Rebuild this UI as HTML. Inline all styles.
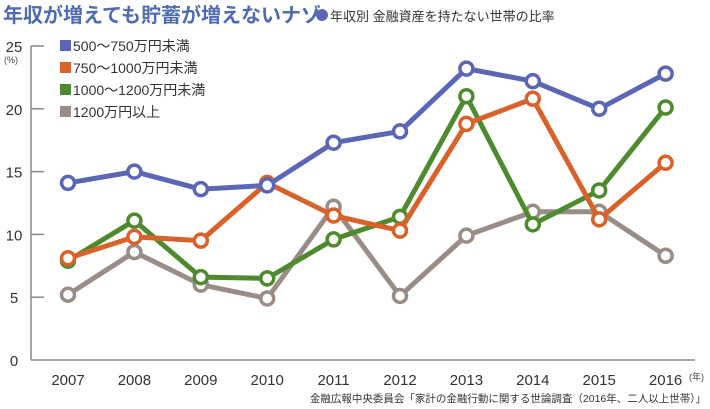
<!DOCTYPE html>
<html><head><meta charset="utf-8"><style>
body{margin:0;background:#fff;font-family:"Liberation Sans","Noto Sans CJK JP",sans-serif}
svg{display:block}
</style></head><body>
<svg id="c" width="710" height="409">
<text x="3" y="22" font-size="20" font-weight="bold" fill="#4f6cb0" font-family="Liberation Sans,Noto Sans CJK JP,sans-serif">年収が増えても貯蓄が増えないナゾ</text>
<circle cx="322" cy="15" r="6" fill="#5b67b5"/>
<text x="330" y="21" font-size="13" fill="#333">年収別 金融資産を持たない世帯の比率</text>
<text x="4" y="63" font-size="9" fill="#444">(%)</text>
<text x="704" y="380" font-size="9" fill="#444" text-anchor="end">(年)</text>
<text x="706" y="402" font-size="10.5" fill="#333" text-anchor="end">金融広報中央委員会「家計の金融行動に関する世論調査（2016年、二人以上世帯）」</text>
<g id="legend"></g>
<g id="axes"></g>
<g id="plot"></g>
</svg>
<script>
const years=['2007','2008','2009','2010','2011','2012','2013','2014','2015','2016'];
const yTicks=[0,5,10,15,20,25];
const s1=[14.1,15.0,13.6,13.9,17.3,18.2,23.2,22.2,20.0,22.8];
const s2=[8.1,9.8,9.5,14.1,11.5,10.3,18.8,20.8,11.2,15.7];
const s3=[7.9,11.1,6.6,6.5,9.6,11.4,21.0,10.8,13.5,20.1];
const s4=[5.2,8.6,6.0,4.9,12.2,5.1,9.9,11.8,11.8,8.3];
const names=['500～750万円未満','750～1000万円未満','1000～1200万円未満','1200万円以上'];
const NS='http://www.w3.org/2000/svg';
const colors=['#5b67b5','#d9622b','#4e8b2f','#9a8c87'];
const x=i=>68+i*66.4, y=v=>360-12.56*v;
function mk(t,a,p){const e=document.createElementNS(NS,t);for(const k in a)e.setAttribute(k,a[k]);p.appendChild(e);return e;}
const ax=document.getElementById('axes');
let l=mk('line',{x1:31,y1:y(25),x2:31,y2:y(0),stroke:'#888','stroke-width':1.5},ax);


l=mk('line',{x1:31,y1:y(0),x2:695,y2:y(0),stroke:'#888','stroke-width':1.5},ax);


yTicks.forEach(v=>{
 const t=mk('text',{x:14,y:y(v)+6,'font-size':15,'text-anchor':'middle',fill:'#333'},ax);t.textContent=v;
 
 
 if(v>0){const tk=mk('line',{x1:31,y1:y(v),x2:44,y2:y(v),stroke:'#888','stroke-width':1.5},ax);
 
 }
});
years.forEach((yr,i)=>{
 const t=mk('text',{x:x(i),y:385,'font-size':15,'text-anchor':'middle',fill:'#333'},ax);t.textContent=yr;
 
 
});
const lg=document.getElementById('legend');
names.forEach((n,i)=>{
 const r=mk('rect',{x:60,y:40+i*22,width:11,height:11,fill:colors[i]},lg);
 
 
 const t=mk('text',{x:73,y:51+i*22,'font-size':14,fill:'#333'},lg);t.textContent=n;
 
 
});
const pl=document.getElementById('plot');
[s4,s3,s2,s1].forEach((s,k)=>{
 const ci=3-k;
 const p=mk('polyline',{points:s.map((v,i)=>x(i)+','+y(v)).join(' '),fill:'none',stroke:colors[ci],'stroke-width':5,'stroke-linejoin':'round'},pl);
 
 
 s.forEach((v,i)=>{
  const c=mk('circle',{cx:x(i),cy:y(v),r:6.5,fill:'#fff',stroke:colors[ci],'stroke-width':3.5},pl);
  
  
 });
});
</script>
</body></html>
